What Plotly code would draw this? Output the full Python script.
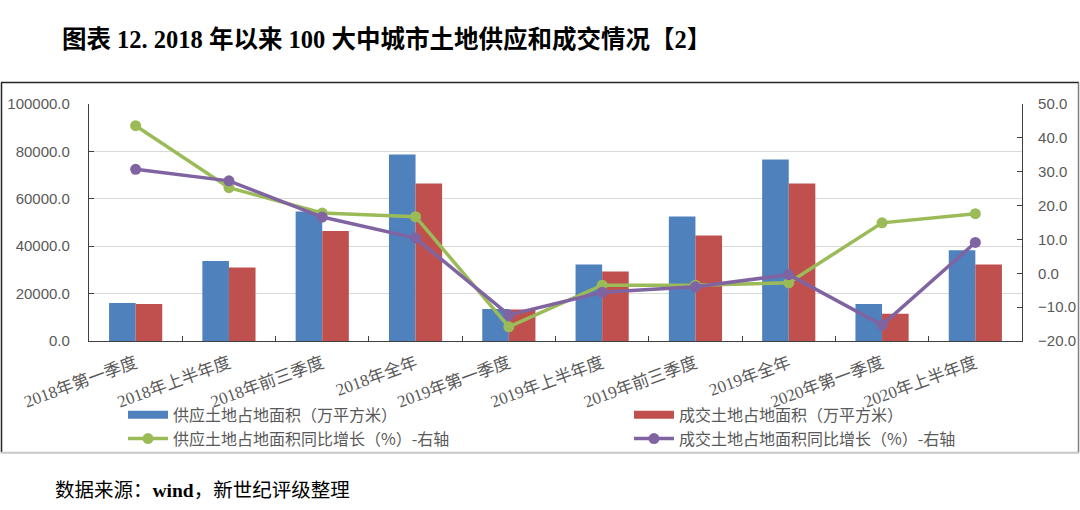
import plotly.graph_objects as go

categories = ["2018年第一季度", "2018年上半年度", "2018年前三季度", "2018年全年",
              "2019年第一季度", "2019年上半年度", "2019年前三季度", "2019年全年",
              "2020年第一季度", "2020年上半年度"]
supply_area = [16000, 33800, 54600, 78700, 13500, 32300, 52500, 76600, 15600, 38300]
deal_area = [15600, 31000, 46400, 66500, 13300, 29300, 44500, 66500, 11500, 32300]
supply_yoy = [43.6, 25.3, 17.8, 16.7, -15.8, -3.5, -3.5, -2.8, 14.9, 17.6]
deal_yoy = [30.7, 27.3, 16.6, 10.4, -12.3, -5.6, -4.0, -0.4, -15.3, 9.1]

names = ["供应土地占地面积（万平方米）", "成交土地占地面积（万平方米）",
         "供应土地占地面积同比增长（%）-右轴", "成交土地占地面积同比增长（%）-右轴"]
title_text = "图表 12. 2018 年以来 100 大中城市土地供应和成交情况【2】"
source_text = "数据来源：<b>wind</b>，新世纪评级整理"

W, H = 1080, 510
L, R, T, B = 89, 1022, 103.5, 341
PW, PH = R - L, B - T


def px(x):
    return (x - L) / PW


def py(y):
    return (B - y) / PH


BLUE, RED, GREEN, PURPLE = "#4F81BD", "#C0504D", "#9BBB59", "#8064A2"
GRAY = "#595959"
SERIF = "Liberation Serif, Noto Sans CJK SC, serif"
SANS = "Noto Sans CJK SC, Liberation Sans, sans-serif"

fig = go.Figure()
# bars (legend shown through wide-swatch proxies in the same legend group)
fig.add_trace(go.Bar(x=categories, y=supply_area, name=names[0], marker_color=BLUE,
                     marker_line_width=0, legendgroup="g0", showlegend=False))
fig.add_trace(go.Bar(x=categories, y=deal_area, name=names[1], marker_color=RED,
                     marker_line_width=0, legendgroup="g1", showlegend=False))
fig.add_trace(go.Scatter(x=[None], y=[None], name=names[0], mode="lines",
                         line=dict(color=BLUE, width=8), legendgroup="g0",
                         legend="legend", hoverinfo="skip"))
fig.add_trace(go.Scatter(x=[None], y=[None], name=names[1], mode="lines",
                         line=dict(color=RED, width=8), legendgroup="g1",
                         legend="legend2", hoverinfo="skip"))
fig.add_trace(go.Scatter(x=categories, y=supply_yoy, name=names[2], yaxis="y2",
                         mode="lines+markers", line=dict(color=GREEN, width=3.5),
                         marker=dict(color=GREEN, size=11), legend="legend"))
fig.add_trace(go.Scatter(x=categories, y=deal_yoy, name=names[3], yaxis="y2",
                         mode="lines+markers", line=dict(color=PURPLE, width=3.5),
                         marker=dict(color=PURPLE, size=11), legend="legend2"))

legend_common = dict(orientation="v", yanchor="top", xanchor="left",
                     font=dict(family=SANS, size=16, color=GRAY),
                     bgcolor="rgba(0,0,0,0)", itemwidth=40, tracegroupgap=0,
                     traceorder="normal")

fig.update_layout(
    width=W, height=H,
    margin=dict(l=L, r=W - R, t=T, b=H - B, autoexpand=False),
    paper_bgcolor="white", plot_bgcolor="white",
    barmode="group", bargap=0.43, bargroupgap=0,
    xaxis=dict(type="category", range=[-0.5, len(categories) - 0.5], tickangle=-20,
               ticks="inside", ticklen=5,
               tickcolor="#404040", tickson="boundaries", showline=True,
               linecolor="#404040", linewidth=1.2, showgrid=False,
               tickfont=dict(family=SERIF, size=17, color=GRAY), ticklabelstandoff=5,
               automargin=False),
    yaxis=dict(range=[0, 100000], dtick=20000, tickformat=".1f", ticks="inside",
               ticklen=5, tickcolor="#404040", showline=True, linecolor="#404040",
               linewidth=1.2, showgrid=True, gridcolor="#D9D9D9", gridwidth=1.2,
               zeroline=False, tickfont=dict(family="Liberation Sans, sans-serif", size=15, color=GRAY),
               ticklabelstandoff=15, automargin=False),
    yaxis2=dict(range=[-20, 50], dtick=10, tickformat=".1f", overlaying="y", side="right",
                ticks="inside", ticklen=5, tickcolor="#404040", showline=True,
                linecolor="#404040", linewidth=1.2, showgrid=False, zeroline=False,
                tickfont=dict(family="Liberation Sans, sans-serif", size=15, color=GRAY),
                ticklabelstandoff=12, automargin=False),
    legend=dict(x=px(123), y=py(398), **legend_common),
    legend2=dict(x=px(629), y=py(398), **legend_common),
    showlegend=True,
    annotations=[
        dict(text=title_text, x=px(60), y=py(38), xref="paper", yref="paper",
             xanchor="left", yanchor="middle", showarrow=False,
             font=dict(family=SERIF, size=24.5, color="black", weight="bold")),
        dict(text=source_text, x=px(53), y=py(491), xref="paper", yref="paper",
             xanchor="left", yanchor="middle", showarrow=False,
             font=dict(family=SERIF, size=19.5, color="black")),
    ],
    shapes=[
        dict(type="line", xref="paper", yref="paper", x0=px(1), x1=px(1079), y0=py(82), y1=py(82),
             line=dict(color="#262626", width=1.5)),
        dict(type="line", xref="paper", yref="paper", x0=px(1.5), x1=px(1.5), y0=py(82), y1=py(453),
             line=dict(color="#262626", width=1.5)),
        dict(type="line", xref="paper", yref="paper", x0=px(1078.5), x1=px(1078.5), y0=py(82), y1=py(453),
             line=dict(color="#808080", width=1.5)),
        dict(type="line", xref="paper", yref="paper", x0=px(1), x1=px(1079), y0=py(453), y1=py(453),
             line=dict(color="#C8C8C8", width=2)),
    ],
)

fig.write_html("out.html")
